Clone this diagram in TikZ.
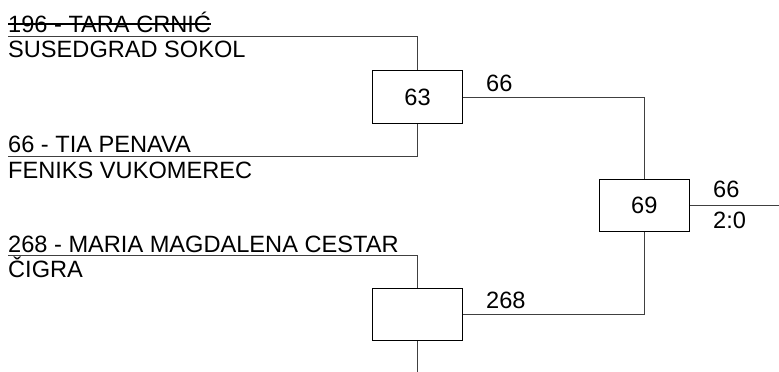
\documentclass[tikz,border=0pt]{standalone}
\usepackage{fontspec}
\setmainfont{Liberation Sans}
\begin{document}
\begin{tikzpicture}[x=1pt,y=-1pt,
  lbl/.style={anchor=base west,inner sep=0pt,font=\fontsize{23.6}{28}\selectfont},
  match/.style={draw=black,line width=1pt,minimum width=90.5pt,minimum height=52.5pt,inner sep=0pt,font=\fontsize{23.6}{28}\selectfont},
  conn/.style={draw=black!75,line width=1pt},
  strike/.style={draw=black,line width=1.2pt}]
\useasboundingbox (0,0) rectangle (779,372);
% players
\node[lbl] (t1) at (8,32) {196 - TARA CRNIĆ};
\node[lbl] (t1c) at (8,57) {SUSEDGRAD SOKOL};
\node[lbl] (t2) at (8,152) {66 - TIA PENAVA};
\node[lbl] (t2c) at (8,178) {FENIKS VUKOMEREC};
\node[lbl] (t3) at (8,252) {268 - MARIA MAGDALENA CESTAR};
\node[lbl] (t3c) at (8,277.5) {ČIGRA};
\draw[strike] ([yshift=8pt]t1.base west) -- ([yshift=8pt]t1.base east);
% matches
\node[match] (m63) at (417.5,97) {63};
\node[match] (m2) at (417.5,314.5) {};
\node[match] (m69) at (644.3,205.5) {69};
% corner coordinates
\coordinate (p1) at (8,36);
\coordinate (p2) at (8,156);
\coordinate (p3) at (8,255);
\coordinate (bot) at (417.5,372);
\coordinate (out) at (779,205.5);
% connectors
\draw[conn] (p1) -| (m63.north);
\draw[conn] (p2) -| (m63.south);
\draw[conn] (p3) -| (m2.north);
\draw[conn] (m2.south) -- (bot);
\draw[conn] (m63.east) -| (m69.north);
\draw[conn] (m2.east) -| (m69.south);
\draw[conn] (m69.east) -- (out);
% winner labels
\node[lbl] (w1) at (486,91.5) {66};
\node[lbl] (w2) at (486,308) {268};
\node[lbl] (w3) at (713,197.5) {66};
\node[lbl] (w3s) at (713,228.5) {2:0};
\end{tikzpicture}
\end{document}
